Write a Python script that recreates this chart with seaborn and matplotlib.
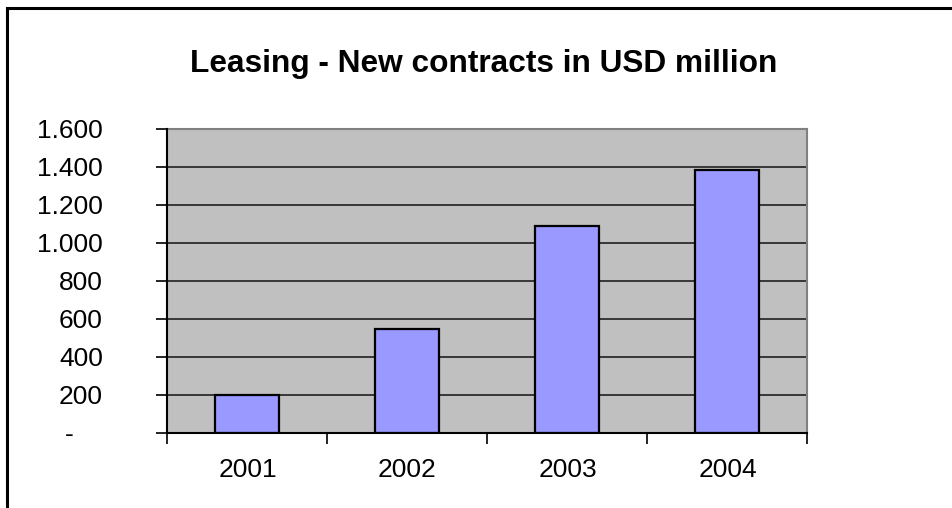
import matplotlib
matplotlib.use("Agg")
import matplotlib.pyplot as plt
from matplotlib.patches import Rectangle
import seaborn as sns
import pandas as pd

# Leasing volume per year (USD million)
years = ["2001", "2002", "2003", "2004"]
new_contracts = [200, 545, 1090, 1385]

y_ticks = [0, 200, 400, 600, 800, 1000, 1200, 1400, 1600]
y_tick_labels = ["-    ", "200", "400", "600", "800", "1.000", "1.200", "1.400", "1.600"]

title = "Leasing - New contracts in USD million"

sns.set_theme(style="white")
plt.rcParams["font.family"] = ["Liberation Sans", "DejaVu Sans"]

W, H = 953, 508
fig = plt.figure(figsize=(W / 100, H / 100), dpi=100)
fig.patch.set_facecolor("white")

left, right, top, bottom = 167.5, 807.5, 129, 432.5
ax = fig.add_axes([left / W, 1 - bottom / H, (right - left) / W, (bottom - top) / H])
ax.set_facecolor("#C0C0C0")

df = pd.DataFrame({"year": years, "value": new_contracts})
sns.barplot(data=df, x="year", y="value", ax=ax, width=0.4,
            color="#9999FF", saturation=1, edgecolor="black", linewidth=1.6,
            zorder=3)

ax.set_xlim(-0.5, len(years) - 0.5)
ax.set_ylim(0, 1600)
ax.set_yticks(y_ticks)
ax.set_yticklabels(y_tick_labels, fontsize=19)
ax.set_xlabel("")
ax.set_ylabel("")
ax.tick_params(axis="x", labelsize=19, length=0, pad=18.5, labelcolor="black")
ax.set_xticks([i - 0.5 for i in range(len(years) + 1)], minor=True)
ax.tick_params(axis="x", which="minor", length=8, width=1.2, color="black",
               direction="out", bottom=True)
ax.tick_params(axis="y", length=8, width=1.2, color="black", labelcolor="black",
               direction="out", left=True, pad=38.5)
for lbl in ax.get_yticklabels():
    lbl.set_horizontalalignment("right")

# horizontal gridlines
for v in y_ticks[1:-1]:
    ax.axhline(v, color="#202020", linewidth=1.2, zorder=1)

for side in ["top", "right"]:
    ax.spines[side].set_color("#808080")
    ax.spines[side].set_linewidth(1.5)
for side in ["left", "bottom"]:
    ax.spines[side].set_color("black")
    ax.spines[side].set_linewidth(1.5)
    ax.spines[side].set_zorder(4)

fig.text(484 / W, 1 - 64 / H, title, ha="center", va="center",
         fontsize=22.8, fontweight="bold", color="black")

# outer chart border
fig.add_artist(Rectangle((7 / W, -0.1), 1.2, 1 - 8 / H + 0.1,
                         transform=fig.transFigure, fill=False,
                         edgecolor="black", linewidth=2.2))

fig.savefig("out.png", dpi=100, facecolor="white")
